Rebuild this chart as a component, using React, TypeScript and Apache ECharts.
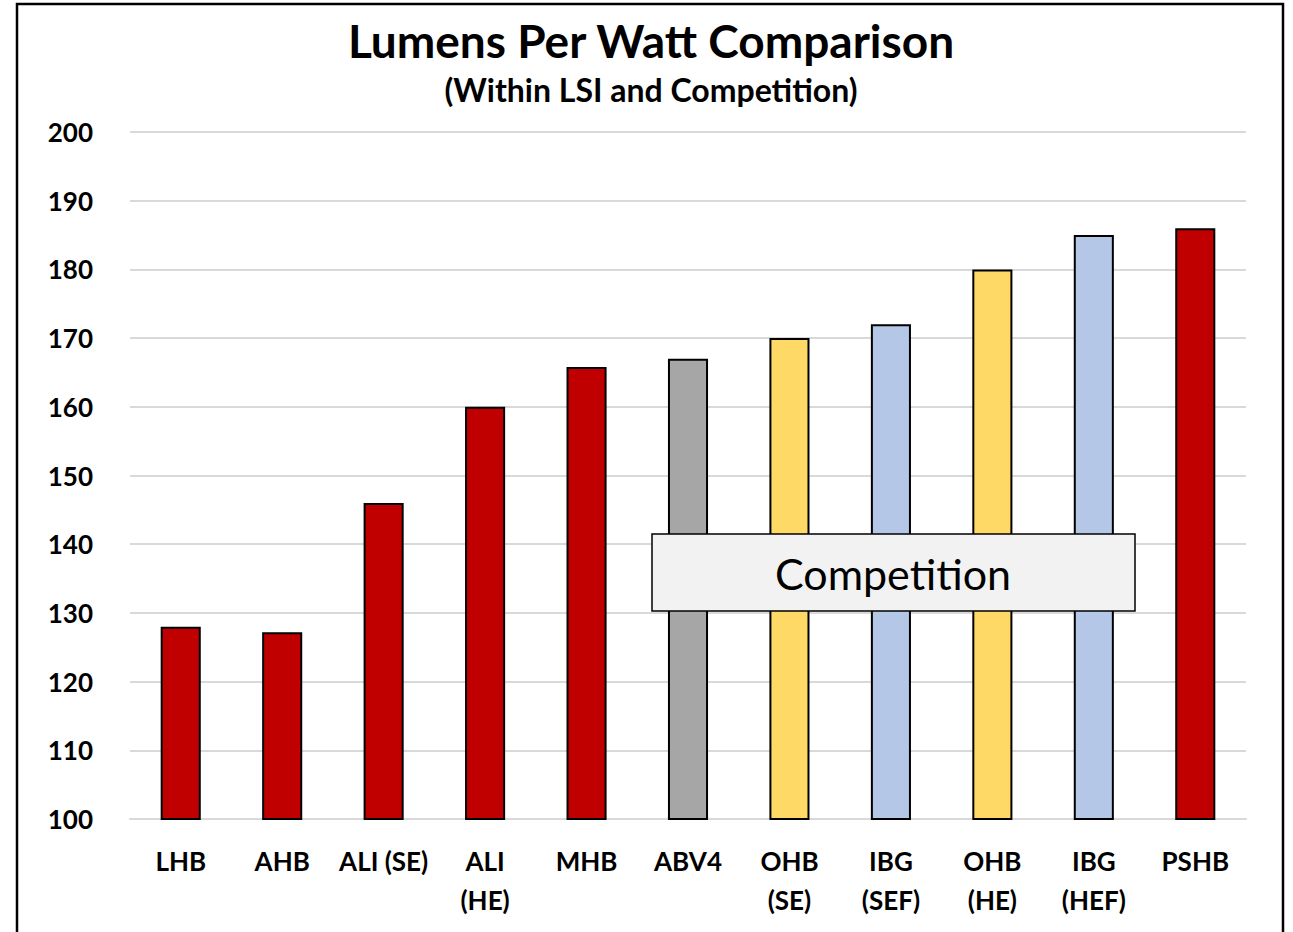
import React, { useEffect, useRef } from "react";
import * as echarts from "echarts";

const categories = [
  "LHB",
  "AHB",
  "ALI (SE)",
  "ALI\n(HE)",
  "MHB",
  "ABV4",
  "OHB\n(SE)",
  "IBG\n(SEF)",
  "OHB\n(HE)",
  "IBG\n(HEF)",
  "PSHB",
];
const values = [128, 127.2, 146, 160, 165.8, 167, 170, 172, 180, 185, 186];
const barColors = [
  "#c00000",
  "#c00000",
  "#c00000",
  "#c00000",
  "#c00000",
  "#a6a6a6",
  "#ffd966",
  "#b4c7e7",
  "#ffd966",
  "#b4c7e7",
  "#c00000",
];
const titleText = "Lumens Per Watt Comparison";
const subtitleText = "(Within LSI and Competition)";
const boxText = "Competition";

const FONT = "Lato, 'Open Sans', sans-serif";

export default function App() {
  const ref = useRef<HTMLDivElement>(null);
  useEffect(() => {
    if (!ref.current) return;
    const chart = echarts.init(ref.current, null, { renderer: "svg" });
    chart.setOption({
      animation: false,
      backgroundColor: "#ffffff",
      grid: { left: 130, right: 47, top: 132, bottom: 113, containLabel: false },
      xAxis: {
        type: "category",
        data: categories,
        axisLine: { show: true, lineStyle: { color: "#d9d9d9", width: 2 } },
        axisTick: { show: false },
        axisLabel: {
          interval: 0,
          margin: 22,
          fontFamily: FONT,
          fontWeight: "bold",
          fontSize: 26,
          color: "#000",
          lineHeight: 39,
        },
      },
      yAxis: {
        type: "value",
        min: 100,
        max: 200,
        interval: 10,
        axisLine: { show: false },
        axisTick: { show: false },
        splitLine: { lineStyle: { color: "#d9d9d9", width: 2 } },
        axisLabel: {
          margin: 37,
          fontFamily: FONT,
          fontWeight: "bold",
          fontSize: 26,
          color: "#000",
        },
      },
      series: [
        {
          type: "bar",
          data: values.map((v, i) => ({
            value: v,
            itemStyle: { color: barColors[i] },
          })),
          barWidth: "39.5%",
          itemStyle: { borderColor: "#000", borderWidth: 2 },
        },
      ],
      graphic: [
        {
          type: "rect",
          shape: { x: 17, y: 4, width: 1266, height: 1000 },
          style: { fill: "none", stroke: "#000", lineWidth: 2.5 },
          z: 100,
        },
        {
          type: "text",
          x: 651,
          y: 40,
          style: {
            text: titleText,
            fontFamily: FONT,
            fontWeight: "bold",
            fontSize: 46,
            fill: "#000",
            align: "center",
            verticalAlign: "middle",
          },
        },
        {
          type: "text",
          x: 651,
          y: 89,
          style: {
            text: subtitleText,
            fontFamily: FONT,
            fontWeight: "bold",
            fontSize: 32,
            fill: "#000",
            align: "center",
            verticalAlign: "middle",
          },
        },
        {
          type: "rect",
          shape: { x: 652, y: 534, width: 483, height: 77 },
          style: { fill: "#f2f2f2", stroke: "#000", lineWidth: 1.5 },
          z: 50,
        },
        {
          type: "text",
          x: 893,
          y: 573,
          z: 51,
          style: {
            text: boxText,
            fontFamily: FONT,
            fontSize: 43,
            fill: "#000",
            align: "center",
            verticalAlign: "middle",
          },
        },
      ],
    });
    return () => chart.dispose();
  }, []);
  return (
    <div
      ref={ref}
      style={{ position: "fixed", left: 0, top: 0, width: 1293, height: 932 }}
    />
  );
}
